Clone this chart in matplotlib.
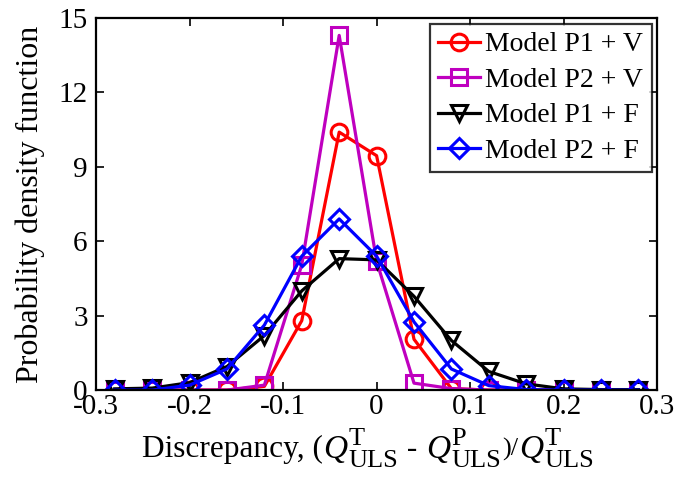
import matplotlib
matplotlib.use("Agg")
import matplotlib.pyplot as plt
from matplotlib.offsetbox import TextArea, HPacker, VPacker, AnchoredOffsetbox
import numpy as np

plt.rcParams['font.family'] = ['Liberation Serif', 'DejaVu Serif']
plt.rcParams['axes.unicode_minus'] = False

x = [-0.28, -0.24, -0.20, -0.16, -0.12, -0.08, -0.04, 0.0, 0.04, 0.08, 0.12, 0.16, 0.20, 0.24, 0.28]
p1_v = [0.0, 0.0, 0.0, 0.0, 0.15, 2.8, 10.4, 9.45, 2.05, 0.06, 0.0, 0.0, 0.0, 0.0, 0.0]
p2_v = [0.0, 0.0, 0.0, 0.0, 0.2, 5.05, 14.3, 5.2, 0.28, 0.06, 0.0, 0.0, 0.0, 0.0, 0.0]
p1_f = [0.05, 0.08, 0.3, 0.95, 2.2, 4.0, 5.3, 5.25, 3.78, 2.0, 0.75, 0.25, 0.05, 0.02, 0.02]
p2_f = [0.0, 0.0, 0.2, 0.85, 2.62, 5.4, 6.9, 5.4, 2.75, 0.85, 0.18, 0.02, 0.0, 0.0, 0.0]

labels = ['Model P1 + V', 'Model P2 + V', 'Model P1 + F', 'Model P2 + F']
xticks = [-0.3, -0.2, -0.1, 0, 0.1, 0.2, 0.3]
xticklabels = ['-0.3', '-0.2', '-0.1', '0', '0.1', '0.2', '0.3']
yticks = [0, 3, 6, 9, 12, 15]

fig = plt.figure(figsize=(6.81, 4.87), dpi=100)
ax = fig.add_axes([0.141, 0.199, 0.824, 0.764])

style = dict(linewidth=2.3, markersize=12, markeredgewidth=2.2, markerfacecolor='none')
ax.plot(x, p1_v, '-o', color='#ff0000', label=labels[0], **style)
ax.plot(x, p2_v, '-s', color='#bf00bf', label=labels[1], **style)
ax.plot(x, p1_f, '-v', color='#000000', label=labels[2], **style)
ax.plot(x, p2_f, '-D', color='#0000ff', label=labels[3], linewidth=2.3, markersize=10,
        markeredgewidth=2.2, markerfacecolor='none')

ax.set_xlim(-0.3, 0.3)
ax.set_ylim(0, 15)
ax.set_xticks(xticks)
ax.set_xticklabels(xticklabels)
ax.set_yticks(yticks)
ax.tick_params(direction='in', top=True, right=True, length=6, width=1.2, labelsize=21)
ax.tick_params(axis='x', pad=3)
ax.tick_params(axis='y', pad=6)
for s in ax.spines.values():
    s.set_linewidth(1.6)

ax.set_ylabel('Probability density function', fontsize=23, labelpad=10)

# x label built from pieces: Discrepancy, (Q^T_ULS - Q^P_ULS)/Q^T_ULS
base = dict(fontsize=22.5)
qprops = dict(fontsize=24, fontstyle='italic')
sc = dict(fontsize=19)

def q_block(sup):
    stack = VPacker(children=[TextArea(sup, textprops=sc), TextArea('ULS', textprops=sc)],
                    align='left', pad=0, sep=0)
    return [TextArea('Q', textprops=qprops), stack]

parts = [TextArea('Discrepancy, (', textprops=base)]
parts += q_block('T')
parts += [TextArea(' - ', textprops=base)]
parts += q_block('P')
parts += [TextArea(')/', textprops=sc)]
parts += q_block('T')
label_box = HPacker(children=parts, align='center', pad=0, sep=0.7)
anch = AnchoredOffsetbox(loc='upper left', child=label_box, pad=0, borderpad=0,
                         frameon=False, bbox_to_anchor=(0.208, 0.122),
                         bbox_transform=fig.transFigure)
fig.add_artist(anch)

leg = ax.legend(loc='upper right', fontsize=20, frameon=True, fancybox=False,
                edgecolor='black', handlelength=1.5, handletextpad=0.2,
                borderpad=0.3, labelspacing=0.36, borderaxespad=0.2)
leg.get_frame().set_linewidth(1.6)

fig.savefig('out.png', dpi=100)
